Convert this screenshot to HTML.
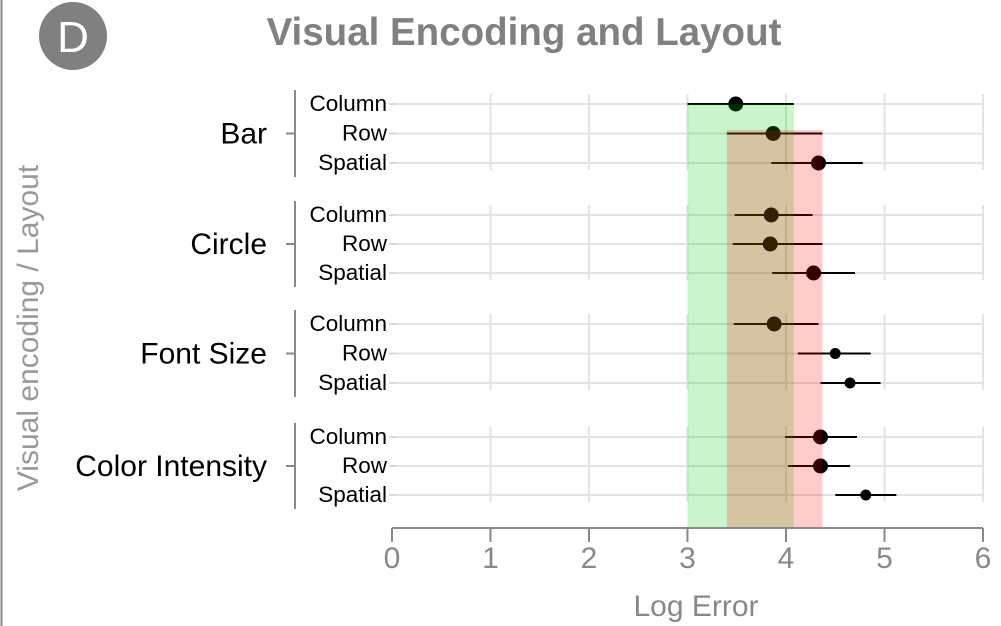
<!DOCTYPE html>
<html><head><meta charset="utf-8"><style>
body{margin:0;background:#fff;}
svg{display:block;font-family:"Liberation Sans",sans-serif;}
</style></head><body>
<svg id="chart" width="1001" height="626" viewBox="0 0 1001 626">
<line x1="1.5" y1="0" x2="1.5" y2="626" stroke="#888" stroke-width="2"/>
<circle cx="73" cy="36" r="34" fill="#808080"/>
<text x="73" y="52" font-size="44" fill="#fff" text-anchor="middle">D</text>
<text x="524" y="45" font-size="38.5" font-weight="bold" fill="#808080" text-anchor="middle">Visual Encoding and Layout</text>
<text transform="translate(38,328) rotate(-90)" font-size="30" fill="#999" text-anchor="middle">Visual encoding / Layout</text>
<text x="696" y="616" font-size="30" fill="#888" text-anchor="middle">Log Error</text>
<g id="grid"></g><g id="marks"></g><g id="bands"></g><g id="axis"></g><g id="labels"></g>
</svg>
<script>
const groups = ["Bar","Circle","Font Size","Color Intensity"];
const layouts = ["Column","Row","Spatial"];
const means = [3.49,3.87,4.33, 3.85,3.84,4.28, 3.88,4.50,4.65, 4.35,4.35,4.81];
const lows  = [3.00,3.40,3.85, 3.48,3.46,3.86, 3.47,4.12,4.35, 3.99,4.02,4.50];
const highs = [4.08,4.37,4.78, 4.27,4.37,4.70, 4.33,4.86,4.96, 4.72,4.65,5.12];
const bigPoint = [1,1,1, 1,1,1, 1,0,0, 1,1,0];
const greenBand = [3.0,4.08];
const redBand = [3.4,4.37];
const xTicks = [0,1,2,3,4,5,6];

const NS="http://www.w3.org/2000/svg";
const x = v => 392 + v*98.5;
const groupTop = [104,215,324,437], rowGap = [29.5,29,29.5,29];
const y = i => groupTop[Math.floor(i/3)] + (i%3)*rowGap[Math.floor(i/3)];
function mk(parent,tag,attrs){const e=document.createElementNS(NS,tag);for(const k in attrs)e.setAttribute(k,attrs[k]);document.getElementById(parent).appendChild(e);return e;}

means.forEach((m,i)=>{
  const l=mk('grid','line',{x1:393,x2:983,y1:y(i),y2:y(i),stroke:'#e3e3e3','stroke-width':2});
  
  
});
groups.forEach((g,gi)=>{
  xTicks.slice(1).forEach(t=>{
    const l=mk('grid','line',{x1:x(t),x2:x(t),y1:y(gi*3)-10,y2:y(gi*3+2)+7,stroke:'#e3e3e3','stroke-width':2});
    
    
  });
  const cy=y(gi*3+1);
  const gl=mk('labels','text',{x:267,y:cy+10,'font-size':30,'text-anchor':'end',fill:'#000'});
  gl.textContent=g;
  
  
  const br=mk('labels','line',{x1:295,x2:295,y1:y(gi*3)-14,y2:y(gi*3+2)+14,stroke:'#888','stroke-width':2});
  
  
  const bt=mk('labels','line',{x1:286,x2:295,y1:cy,y2:cy,stroke:'#888','stroke-width':2});
  
  
});
means.forEach((m,i)=>{
  const t=mk('labels','text',{x:387,y:y(i)+7,'font-size':22.5,'text-anchor':'end',fill:'#000'});
  t.textContent=layouts[i%3];
  
  
  const tk=mk('labels','line',{x1:389,x2:395,y1:y(i),y2:y(i),stroke:'#ccc','stroke-width':1.5});
  
  
  const e=mk('marks','line',{x1:x(lows[i]),x2:x(highs[i]),y1:y(i),y2:y(i),stroke:'#000','stroke-width':2});
  
  
  const c=mk('marks','circle',{cx:x(m),cy:y(i),r:bigPoint[i]?7.5:5.5,fill:'#000'});
  
  
});
const gb=mk('bands','rect',{x:x(greenBand[0]),y:104,width:x(greenBand[1])-x(greenBand[0]),height:424,fill:'rgb(0,200,0)','fill-opacity':0.2});


const rb=mk('bands','rect',{x:x(redBand[0]),y:130,width:x(redBand[1])-x(redBand[0]),height:398,fill:'rgb(255,0,0)','fill-opacity':0.2});


const ax=mk('axis','line',{x1:x(0),x2:x(6),y1:528,y2:528,stroke:'#888','stroke-width':2});


xTicks.forEach(t=>{
  const tk=mk('axis','line',{x1:x(t),x2:x(t),y1:528,y2:542,stroke:'#888','stroke-width':2});
  
  
  const tl=mk('axis','text',{x:x(t),y:568,'font-size':30,fill:'#888','text-anchor':'middle'});
  tl.textContent=t;
  
  
});
</script>
</body></html>
